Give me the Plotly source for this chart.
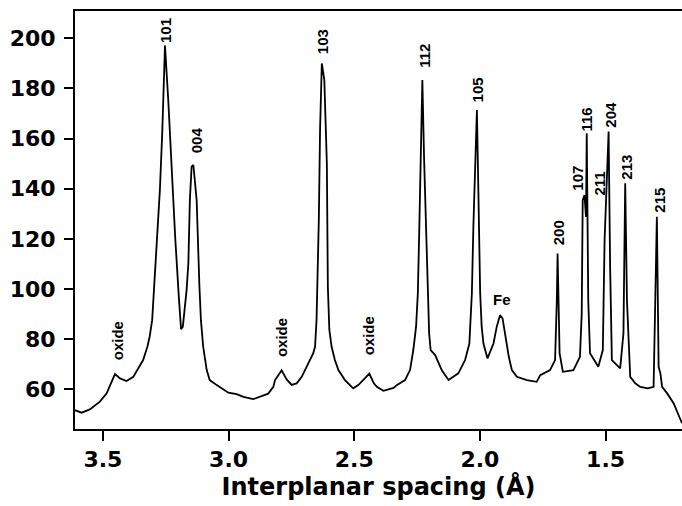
import plotly.graph_objects as go

# Interplanar spacing (Å) and intensity
d_spacing = [
    3.611, 3.585, 3.552, 3.512, 3.485, 3.452, 3.432, 3.406, 3.379, 3.340,
    3.323, 3.314, 3.304, 3.297, 3.288, 3.280, 3.273, 3.264, 3.253, 3.240,
    3.227, 3.212, 3.198, 3.189, 3.182, 3.167, 3.160, 3.154, 3.147, 3.140,
    3.127, 3.121, 3.116, 3.110, 3.101, 3.087, 3.075, 3.047, 3.027, 3.001,
    2.968, 2.941, 2.902, 2.862, 2.842, 2.822, 2.815, 2.789, 2.769, 2.749,
    2.729, 2.709, 2.677, 2.663, 2.656, 2.650, 2.647, 2.641, 2.636, 2.629,
    2.619, 2.609, 2.605, 2.599, 2.590, 2.577, 2.563, 2.537, 2.504, 2.484,
    2.458, 2.440, 2.422, 2.410, 2.384, 2.344, 2.331, 2.298, 2.278, 2.265,
    2.254, 2.247, 2.241, 2.235, 2.229, 2.222, 2.215, 2.209, 2.202, 2.196,
    2.178, 2.152, 2.125, 2.086, 2.059, 2.042, 2.032, 2.026, 2.019, 2.012,
    2.006, 1.999, 1.993, 1.986, 1.970, 1.946, 1.933, 1.920, 1.910, 1.901,
    1.885, 1.873, 1.853, 1.813, 1.774, 1.760, 1.721, 1.701, 1.697, 1.694,
    1.691, 1.686, 1.683, 1.670, 1.628, 1.602, 1.595, 1.591, 1.584, 1.578,
    1.575, 1.569, 1.562, 1.529, 1.511, 1.504, 1.498, 1.488, 1.482, 1.475,
    1.442, 1.429, 1.422, 1.415, 1.402, 1.382, 1.362, 1.332, 1.309, 1.296,
    1.289, 1.282, 1.275, 1.255, 1.229, 1.202, 1.196,
]
intensity = [
    51.7, 50.7, 52.0, 55.1, 58.4, 66.1, 64.4, 63.3, 65.0, 71.7,
    77.0, 81.0, 87.6, 99.6, 114.0, 130.0, 140.0, 162.1, 197.1, 175.4,
    148.8, 120.0, 97.0, 84.0, 85.0, 99.6, 110.3, 135.5, 148.8, 149.5,
    135.5, 111.6, 101.0, 87.6, 77.0, 67.7, 63.7, 61.7, 60.4, 58.7,
    58.1, 57.0, 56.1, 57.5, 58.3, 61.0, 63.7, 67.6, 64.0, 61.8,
    62.4, 65.0, 71.7, 74.4, 77.0, 87.6, 100.9, 127.5, 163.4, 190.0,
    183.4, 150.1, 100.9, 83.7, 77.0, 71.7, 67.7, 63.7, 60.4, 61.7,
    64.4, 66.3, 62.4, 61.0, 59.4, 60.6, 61.7, 63.7, 67.7, 75.7,
    85.0, 98.3, 124.9, 151.5, 183.4, 151.5, 124.9, 98.3, 82.3, 75.7,
    73.7, 67.7, 63.7, 66.4, 71.7, 78.3, 98.3, 124.9, 151.5, 171.4,
    138.2, 98.3, 85.0, 78.3, 72.4, 78.3, 85.0, 89.6, 88.3, 82.3,
    73.0, 67.7, 65.0, 63.7, 63.0, 65.7, 67.7, 71.7, 82.3, 95.6,
    114.2, 95.6, 74.4, 67.0, 67.7, 73.0, 90.0, 135.5, 137.5, 128.8,
    162.1, 95.6, 74.4, 69.0, 75.7, 119.6, 135.5, 162.8, 108.9, 71.7,
    68.4, 82.3, 142.2, 95.6, 65.0, 62.4, 61.0, 60.4, 61.0, 128.8,
    69.0, 66.4, 61.0, 58.4, 54.4, 47.8, 46.5,
]

# Peak labels (rotated) and their positions
label_text = ["101", "004", "103", "112", "105", "200", "107", "116",
              "211", "204", "213", "215", "oxide", "oxide", "oxide"]
label_x = [3.253, 3.127, 2.623, 2.219, 2.008, 1.687, 1.612, 1.575,
           1.528, 1.482, 1.418, 1.289, 3.439, 2.789, 2.440]
label_y = [203.3, 159.2, 198.6, 193.0, 179.6, 122.5, 144.2, 167.5,
           141.9, 169.6, 148.5, 135.5, 79.3, 80.7, 81.3]

# Horizontal label
fe_text = "Fe"
fe_x = 1.913
fe_y = 95.9

x_ticks = [3.5, 3.0, 2.5, 2.0, 1.5]
x_ticktext = ["3.5", "3.0", "2.5", "2.0", "1.5"]
y_ticks = [60, 80, 100, 120, 140, 160, 180, 200]
x_range = [3.611, 1.196]
y_range = [44.2, 210.9]

fig = go.Figure()
fig.add_trace(go.Scatter(
    x=d_spacing, y=intensity, mode="lines",
    line=dict(color="black", width=1.8),
    showlegend=False, hoverinfo="skip",
))

ann_font = dict(family="Liberation Sans, Arial, sans-serif", size=15,
                color="black", weight="bold")
for t, x, y in zip(label_text, label_x, label_y):
    fig.add_annotation(x=x, y=y, xref="x", yref="y", text=t,
                       textangle=-90, showarrow=False, font=ann_font,
                       xanchor="center", yanchor="middle")
fig.add_annotation(x=fe_x, y=fe_y, xref="x", yref="y", text=fe_text,
                   showarrow=False, font=ann_font,
                   xanchor="center", yanchor="middle")

tick_font = dict(family="DejaVu Sans, sans-serif", size=22, color="black",
                 weight="bold")
fig.update_layout(
    width=682, height=506,
    margin=dict(l=75, r=0, t=11, b=77),
    plot_bgcolor="white", paper_bgcolor="white",
    xaxis=dict(
        range=x_range, tickvals=x_ticks, ticktext=x_ticktext,
        automargin=False,
        showgrid=False, zeroline=False,
        showline=True, linecolor="black", linewidth=2, mirror=True,
        ticks="outside", ticklen=10, tickwidth=2, tickcolor="black",
        tickfont=tick_font,
        title=dict(text="Interplanar spacing (Å)",
                   font=dict(family="DejaVu Sans, sans-serif", size=24,
                             color="black", weight="bold"),
                   standoff=2),
    ),
    yaxis=dict(
        range=y_range, tickvals=y_ticks,
        automargin=False,
        showgrid=False, zeroline=False,
        showline=True, linecolor="black", linewidth=2, mirror=False,
        ticks="outside", ticklen=9, tickwidth=2, tickcolor="black",
        tickfont=tick_font, ticklabelstandoff=4,
    ),
)

fig.write_html(
    "out.html",
    config={"displayModeBar": False},
    post_script="document.body.style.margin='0';"
                "document.body.style.overflow='hidden';",
)
